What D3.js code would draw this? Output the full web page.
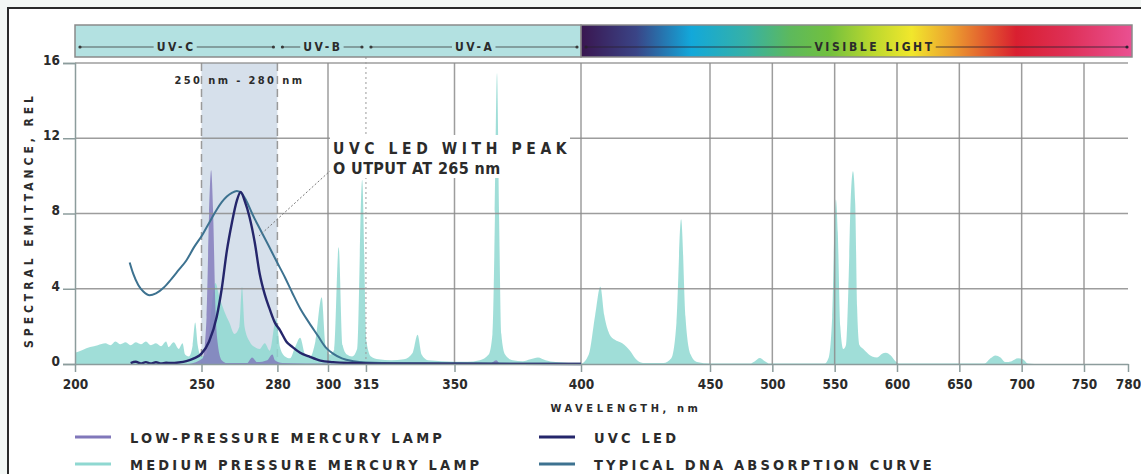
<!DOCTYPE html>
<html>
<head>
<meta charset="utf-8">
<script src="https://cdn.jsdelivr.net/npm/d3@7"></script>
<style>
  html, body { margin: 0; padding: 0; background: #f3f7f5; }
  svg { display: block; }
  text {
    font-family: "DejaVu Sans Condensed", "Liberation Sans Narrow", "Roboto", sans-serif;
    font-weight: bold;
    fill: #2b2b2b;
  }
</style>
</head>
<body>
<svg id="chart" width="1141" height="474"></svg>
<script>
// ---- data ---------------------------------------------------------------
const xTicks = [200, 250, 280, 300, 315, 350, 400, 450, 500, 550, 600, 650, 700, 750, 780];
const yTicks = [0, 4, 8, 12, 16];

// Medium pressure mercury lamp (wavelength nm / relative emittance)
const mpWl = [200, 203, 206, 209, 212, 214, 216, 218, 220, 222, 224, 226, 228, 230, 232, 234, 236, 237, 239, 241,
  242.5, 243.5, 245, 246.5, 247.5, 248.5, 250, 252, 254, 255.5, 257, 259, 261, 263, 265, 266, 267, 269, 271, 273,
  275, 277, 279.5, 281, 283, 285, 287, 289, 291, 293, 295, 297.5, 299, 301, 302.5, 304.2, 305.8, 307.5, 309.5, 311.5,
  313.5, 315.2, 317, 320, 325, 330, 333.5, 335.4, 337, 339.5, 345, 350, 355, 360, 363.5, 365, 366, 366.8, 367.6, 368.5,
  370, 373, 377, 380, 383, 386, 390, 395, 400, 403, 405.5, 407.5, 409, 411, 413, 416, 419, 421, 424, 432,
  435, 437, 438.8, 440.5, 442.5, 445, 450, 482, 486, 490, 494, 498, 542, 545, 548, 550, 551, 552.5,
  554.5, 557, 559, 561, 563, 564.7, 566.5, 568, 570, 573, 576, 580, 584, 588, 591, 595, 598, 602,
  670, 675, 679, 683, 687, 692, 697, 701, 705, 710];
const mpVal = [0.6, 0.75, 0.9, 1.0, 1.1, 1.0, 1.2, 1.05, 1.15, 1.0, 1.15, 1.05, 1.2, 1.0, 1.1, 0.95, 1.2, 0.9, 1.15, 0.8,
  1.1, 0.5, 0.4, 1.0, 2.2, 1.0, 0.4, 0.5, 3.0, 4.3, 3.6, 2.8, 2.2, 1.6, 2.0, 4.1, 2.0, 1.2, 0.9, 0.8,
  1.1, 0.7, 2.4, 0.9, 0.4, 0.3, 0.9, 1.4, 0.5, 0.4, 1.2, 3.55, 1.0, 0.5, 0.8, 6.2, 1.0, 0.5, 0.4, 0.8,
  9.8, 1.2, 0.4, 0.25, 0.2, 0.25, 0.6, 1.55, 0.5, 0.2, 0.15, 0.12, 0.12, 0.2, 0.5, 1.6, 8.0, 15.45, 8.0, 1.6,
  0.5, 0.2, 0.15, 0.25, 0.35, 0.2, 0.1, 0.05, 0.02, 0.5, 2.6, 4.1, 2.6, 1.6, 1.3, 1.1, 0.7, 0.3, 0.05, 0.05,
  0.3, 2.2, 7.7, 2.5, 0.5, 0.1, 0.02, 0.02, 0.15, 0.32, 0.15, 0.02, 0.02, 0.3, 2.5, 7.5, 8.75, 7.0,
  2.0, 0.8, 1.0, 4.0, 9.0, 10.25, 8.5, 3.0, 1.0, 0.8, 0.6, 0.4, 0.35, 0.55, 0.6, 0.45, 0.2, 0.02,
  0.02, 0.3, 0.45, 0.35, 0.1, 0.15, 0.3, 0.25, 0.02, 0];

// Low-pressure mercury lamp
const lpWl = [245, 250.5, 252, 253, 253.8, 254.6, 255.5, 256.5, 258, 260, 268, 270, 272, 276, 278, 279, 282, 300, 311, 313, 315, 364, 366.5, 368, 400];
const lpVal = [0, 0.3, 2.5, 8.0, 10.3, 8.0, 3.0, 1.0, 0.2, 0.05, 0.05, 0.35, 0.1, 0.2, 0.5, 0.2, 0.05, 0.02, 0.02, 0.15, 0.02, 0.02, 0.2, 0.02, 0];

// UVC LED
const ledWl = [222, 224, 226, 228, 230, 232, 234, 236, 238, 241, 244, 247, 250, 253, 256, 258, 260, 262, 264, 265.5,
  267, 269, 271, 273, 275, 277, 279, 281, 283.5, 286, 289, 292.5, 297, 302, 310, 320, 350, 400];
const ledVal = [0.05, 0.12, 0.03, 0.1, 0.03, 0.09, 0.03, 0.07, 0.05, 0.08, 0.15, 0.3, 0.55, 1.2, 2.5, 4.0, 6.0, 7.5, 8.7, 9.15,
  8.7, 7.8, 6.5, 4.8, 3.7, 2.9, 2.2, 1.8, 1.2, 0.9, 0.6, 0.4, 0.18, 0.1, 0.05, 0.02, 0.01, 0];

// Typical DNA absorption curve
const dnaWl = [221.6, 223, 225, 227, 229.5, 232, 235, 238, 241, 244, 247, 250.5, 253, 256, 258, 260, 262, 264, 266, 268,
  270, 273, 276.5, 279.5, 283, 286, 289, 292.5, 296, 299, 302, 305.5, 310, 315, 330, 360, 400];
const dnaVal = [5.4, 4.8, 4.2, 3.85, 3.65, 3.75, 4.05, 4.5, 5.0, 5.5, 6.2, 6.9, 7.5, 8.2, 8.6, 8.9, 9.1, 9.2, 9.05, 8.6,
  8.0, 7.2, 6.3, 5.5, 4.6, 3.75, 2.95, 2.2, 1.5, 0.9, 0.55, 0.3, 0.15, 0.08, 0.04, 0.02, 0.01];

// Spectral regions shown in the header band
const bandNames = ["UV-C", "UV-B", "UV-A", "VISIBLE LIGHT"];
const bandFrom = [200, 280, 315, 400];
const bandTo = [280, 315, 400, 780];
const bandLabelNm = [240, 298, 358, 582];
const highlightRange = [250, 280];

const legendNames = ["LOW-PRESSURE MERCURY LAMP", "UVC LED", "MEDIUM PRESSURE MERCURY LAMP", "TYPICAL DNA ABSORPTION CURVE"];

// ---- layout -------------------------------------------------------------
const svg = d3.select("#chart");
const plotL = 75, plotR = 1128, plotT = 63, plotB = 364;

// wavelength axis is stretched through the UV and compressed in the visible range
const x = d3.scaleLinear()
  .domain([200, 400, 450, 750, 780])
  .range([plotL, 581, 710, 1084, plotR]);
const y = d3.scaleLinear().domain([0, 16]).range([plotB, plotT]);

const C = {
  medium: "#8fd8d1",
  low: "#8077ba",
  led: "#25266b",
  dna: "#3d7290",
  grid: "#8c8c8c",
  axis: "#8c9c9c",
  shade: "#d6e0eb",
  uv: "#b3e1e1"
};

// page frame
svg.append("rect").attr("x", 8).attr("y", 8).attr("width", 1141).attr("height", 474).attr("fill", "#fff");
svg.append("path").attr("d", "M8,480V8H1141").attr("fill", "none").attr("stroke", "#2a2a2a").attr("stroke-width", 2);

const defs = svg.append("defs");
const grad = defs.append("linearGradient").attr("id", "visible").attr("x1", 0).attr("x2", 1).attr("y1", 0).attr("y2", 0);
[[0, "#3a1650"], [0.1, "#3a4486"], [0.2, "#12a8da"], [0.3, "#36b1a6"], [0.38, "#5db95c"], [0.45, "#72c03e"],
 [0.53, "#bcd82e"], [0.6, "#f1e72c"], [0.67, "#eca32f"], [0.74, "#e2542f"], [0.79, "#d91f30"], [0.88, "#de2f55"], [1, "#ea5092"]]
  .forEach(s => grad.append("stop").attr("offset", s[0]).attr("stop-color", s[1]));

// highlighted 250–280 nm window
svg.append("rect")
  .attr("x", x(highlightRange[0])).attr("y", plotT)
  .attr("width", x(highlightRange[1]) - x(highlightRange[0])).attr("height", plotB - plotT)
  .attr("fill", C.shade);
highlightRange.forEach(v => {
  svg.append("line").attr("x1", x(v)).attr("x2", x(v)).attr("y1", plotT).attr("y2", plotB)
    .attr("stroke", "#9a9a9a").attr("stroke-width", 1.5).attr("stroke-dasharray", "8,5");
});
svg.append("text").attr("x", (x(250) + x(280)) / 2).attr("y", 84)
  .attr("text-anchor", "middle").attr("font-size", 11).attr("letter-spacing", 2.4)
  .text("250 nm - 280 nm");

// emission spectra (filled)
const area = (wl, val) => d3.area()
  .x((d, i) => x(wl[i])).y0(y(0)).y1((d, i) => y(val[i]))
  .curve(d3.curveMonotoneX)(val);
svg.append("path").attr("d", area(mpWl, mpVal)).attr("fill", C.medium).attr("fill-opacity", 0.85);
svg.append("path").attr("d", area(lpWl, lpVal)).attr("fill", C.low).attr("fill-opacity", 0.8);

// grid
const gridX = xTicks.filter(v => v >= 300 && v !== 315 && v < 780);
svg.append("g").selectAll("line").data(gridX).join("line")
  .attr("x1", d => x(d)).attr("x2", d => x(d)).attr("y1", plotT).attr("y2", plotB)
  .attr("stroke", C.grid).attr("stroke-width", 1.5).attr("stroke-opacity", 0.85);
svg.append("g").selectAll("line").data(yTicks.filter(v => v > 0)).join("line")
  .attr("x1", plotL).attr("x2", plotR).attr("y1", d => y(d)).attr("y2", d => y(d))
  .attr("stroke", C.grid).attr("stroke-width", 1.5).attr("stroke-opacity", 0.85);

// 315 nm UV-B / UV-A boundary
svg.append("line").attr("x1", x(315)).attr("x2", x(315)).attr("y1", 47).attr("y2", plotB)
  .attr("stroke", "#9a9a9a").attr("stroke-width", 1).attr("stroke-dasharray", "2,3");

// LED and DNA curves
const line = (wl, val) => d3.line()
  .x((d, i) => x(wl[i])).y((d, i) => y(val[i]))
  .curve(d3.curveMonotoneX)(val);
svg.append("path").attr("d", line(dnaWl, dnaVal)).attr("fill", "none").attr("stroke", C.dna).attr("stroke-width", 2);
svg.append("path").attr("d", line(ledWl, ledVal)).attr("fill", "none").attr("stroke", C.led).attr("stroke-width", 2.4);

// axes
const yAxis = svg.append("g").attr("transform", `translate(${plotL},0)`)
  .call(d3.axisLeft(y).tickValues(yTicks).tickSize(12).tickPadding(3));
const xAxis = svg.append("g").attr("transform", `translate(0,${plotB})`)
  .call(d3.axisBottom(x).tickValues(xTicks).tickSize(8).tickPadding(7).tickSizeOuter(0));
[yAxis, xAxis].forEach(g => {
  g.select(".domain").attr("stroke", C.axis).attr("stroke-width", 1.5);
  g.selectAll(".tick line").attr("stroke", C.axis).attr("stroke-width", 1.5);
  g.selectAll(".tick text").attr("font-size", 13.5).attr("fill", "#333")
    .attr("font-family", "\"DejaVu Sans Condensed\", \"Liberation Sans Narrow\", sans-serif");
});
yAxis.selectAll(".tick text").attr("dy", "0.1em");

svg.append("text").attr("transform", "translate(33,220) rotate(-90)")
  .attr("text-anchor", "middle").attr("font-size", 12).attr("letter-spacing", 3.95)
  .text("SPECTRAL EMITTANCE, REL");
svg.append("text").attr("x", 626).attr("y", 412)
  .attr("text-anchor", "middle").attr("font-size", 11).attr("letter-spacing", 3.6)
  .text("WAVELENGTH, nm");

// header band: UV and visible ranges
const bandTop = 25, bandH = 32, bandMid = 47;
svg.append("rect").attr("x", plotL).attr("y", bandTop).attr("width", x(400) - plotL).attr("height", bandH)
  .attr("fill", C.uv).attr("stroke", "#8a8a8a").attr("stroke-width", 1.5);
svg.append("rect").attr("x", x(400)).attr("y", bandTop).attr("width", 1132 - x(400)).attr("height", bandH)
  .attr("fill", "url(#visible)").attr("stroke", "#8a8a8a").attr("stroke-width", 1.5);

bandNames.forEach((name, i) => {
  const x0 = x(bandFrom[i]) + 5, x1 = (i === 3 ? 1127 : x(bandTo[i]) - 4);
  const cx = x(bandLabelNm[i]);
  const t = svg.append("text").attr("x", cx).attr("y", bandMid + 4)
    .attr("text-anchor", "middle").attr("font-size", 12).attr("letter-spacing", 2.6)
    .text(name);
  const w = t.node().getComputedTextLength();
  const ink = i === 3 ? "#2a2030" : "#3a3a3a";
  [[x0, cx - w / 2 - 3], [cx + w / 2 + 1, x1]].forEach(s => {
    svg.append("line").attr("x1", s[0]).attr("x2", s[1]).attr("y1", bandMid).attr("y2", bandMid)
      .attr("stroke", ink).attr("stroke-width", 1).attr("stroke-opacity", 0.8);
  });
  [x0, x1].forEach(p => svg.append("circle").attr("cx", p).attr("cy", bandMid).attr("r", 1.6).attr("fill", ink));
  t.raise();
});

// callout for the LED peak
svg.append("line").attr("x1", 331).attr("y1", 170).attr("x2", 259).attr("y2", 236)
  .attr("stroke", "#777").attr("stroke-width", 1).attr("stroke-dasharray", "2,2");
svg.append("rect").attr("x", 330).attr("y", 135).attr("width", 240).attr("height", 43).attr("fill", "#fff");
svg.append("text").attr("x", 333).attr("y", 154).attr("font-size", 15.5).attr("letter-spacing", 4.6)
  .text("UVC LED WITH PEAK");
svg.append("text").attr("x", 333).attr("y", 174).attr("font-size", 16).attr("letter-spacing", 0.4)
  .text("O UTPUT AT 265 nm");

// legend
const legendColor = [C.low, C.led, C.medium, C.dna];
const legendX = [75, 539], legendY = [437, 464];
legendNames.forEach((name, i) => {
  const lx = legendX[i % 2], ly = legendY[Math.floor(i / 2)];
  svg.append("line").attr("x1", lx).attr("x2", lx + 36).attr("y1", ly).attr("y2", ly)
    .attr("stroke", legendColor[i]).attr("stroke-width", 3);
  svg.append("text").attr("x", lx + 55).attr("y", ly + 5.5).attr("font-size", 14.5).attr("letter-spacing", 3.2)
    .text(name);
});
</script>
</body>
</html>
